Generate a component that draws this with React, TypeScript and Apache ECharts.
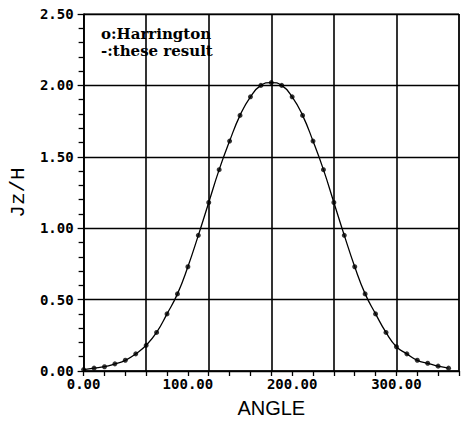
import React, { useEffect, useRef } from "react";
import * as echarts from "echarts";

const angles = [0, 10, 20, 30, 40, 50, 60, 70, 80, 90, 100, 110, 120, 130, 140, 150, 160, 170, 180,
  190, 200, 210, 220, 230, 240, 250, 260, 270, 280, 290, 300, 310, 320, 330, 340, 350];
const harrington = [0.01, 0.02, 0.03, 0.05, 0.075, 0.12, 0.18, 0.27, 0.40, 0.54, 0.73, 0.95, 1.18, 1.41, 1.61, 1.79, 1.92, 2.00, 2.02,
  2.00, 1.92, 1.79, 1.61, 1.41, 1.18, 0.95, 0.73, 0.54, 0.40, 0.27, 0.17, 0.12, 0.075, 0.054, 0.034, 0.02];
const theseResult = harrington;
const legendLines = ["o:Harrington", "-:these result"];
const xName = "ANGLE";
const yName = "Jz/H";

export default function App() {
  const ref = useRef<HTMLDivElement>(null);
  useEffect(() => {
    document.body.style.margin = "0";
    const chart = echarts.init(ref.current!, null, { renderer: "svg" });
    const mono = "DejaVu Sans Mono";
    const baseX = {
      type: "value" as const,
      min: 0,
      max: 360,
      position: "bottom" as const,
    };
    chart.setOption({
      animation: false,
      backgroundColor: "#fff",
      grid: { left: 83, right: 10, top: 14, bottom: 41, show: true, borderColor: "#000", borderWidth: 1 },
      xAxis: [
        {
          ...baseX,
          interval: 60,
          axisLine: { show: false },
          axisTick: { show: false },
          axisLabel: { show: false },
          splitLine: { show: true, lineStyle: { color: "#000", width: 1.6 } },
        },
        {
          ...baseX,
          interval: 20,
          name: xName,
          nameLocation: "middle",
          nameGap: 27,
          nameTextStyle: { fontFamily: "Liberation Sans", fontSize: 20, color: "#000" },
          axisLine: { show: true, lineStyle: { color: "#000", width: 1.5 } },
          axisTick: { show: true, length: 5, lineStyle: { color: "#000", width: 1.3 } },
          axisLabel: {
            margin: 6,
            fontFamily: mono,
            fontWeight: "bold",
            fontSize: 14,
            color: "#000",
            formatter: (v: number) => (v % 100 === 0 ? v.toFixed(2) : ""),
          },
          splitLine: { show: false },
        },
      ],
      yAxis: {
        type: "value",
        min: 0,
        max: 2.5,
        interval: 0.5,
        position: "left",
        name: yName,
        nameLocation: "middle",
        nameGap: 52,
        nameRotate: 90,
        nameTextStyle: { fontFamily: "Liberation Mono", fontSize: 21, color: "#000" },
        axisLine: { show: true, lineStyle: { color: "#000", width: 1.5 } },
        axisTick: { show: true, length: 6, lineStyle: { color: "#000", width: 1.3 } },
        minorTick: { show: true, splitNumber: 5, length: 5, lineStyle: { color: "#000", width: 1.3 } },
        axisLabel: {
          margin: 10,
          fontFamily: mono,
          fontWeight: "bold",
          fontSize: 14,
          color: "#000",
          formatter: (v: number) => v.toFixed(2),
        },
        splitLine: { show: true, lineStyle: { color: "#000", width: 1.3 } },
      },
      series: [
        {
          name: "these result",
          type: "line",
          xAxisIndex: 1,
          smooth: true,
          data: angles.map((a, i) => [a, theseResult[i]]),
          showSymbol: false,
          lineStyle: { color: "#000", width: 1.3 },
          z: 3,
        },
        {
          name: "Harrington",
          type: "scatter",
          xAxisIndex: 1,
          data: angles.map((a, i) => [a, harrington[i]]),
          symbol: "circle",
          symbolSize: 5,
          itemStyle: { color: "#000" },
          z: 4,
        },
      ],
      graphic: legendLines.map((t, i) => ({
        type: "text",
        left: 101,
        top: 26 + i * 17,
        style: { text: t, font: "bold 15px 'DejaVu Serif'", fill: "#000" },
        z: 10,
      })),
    });
    return () => chart.dispose();
  }, []);
  return <div ref={ref} style={{ width: 469, height: 423, position: "absolute", left: 0, top: 0 }} />;
}
